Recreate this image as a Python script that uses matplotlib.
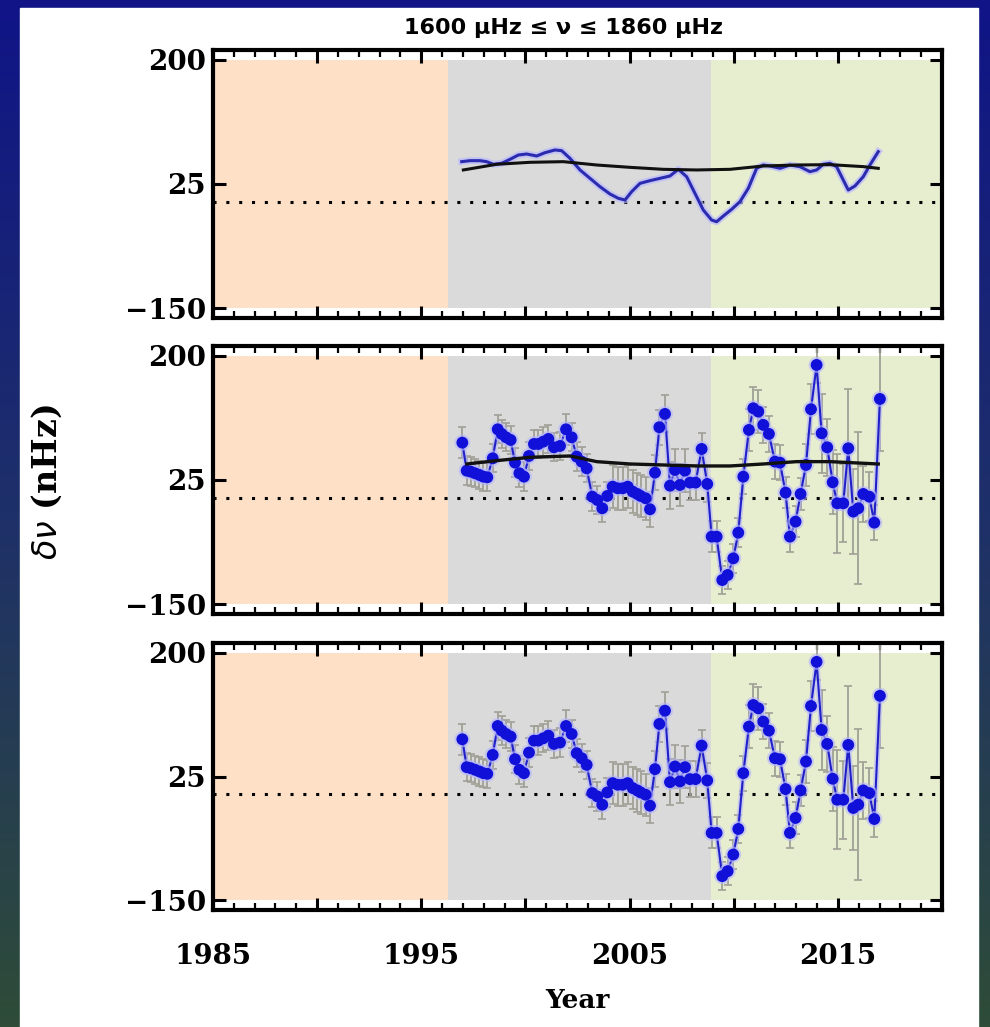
import numpy as np
import matplotlib
matplotlib.use("Agg")
import matplotlib.pyplot as plt
from matplotlib.patches import Rectangle
from matplotlib.ticker import MultipleLocator, FuncFormatter
import matplotlib.patheffects as pe

# ---- data -------------------------------------------------------------
# smoothed frequency shift (top panel)
smooth_year = [1996.94, 1997.34, 1997.82, 1998.14, 1998.46, 1998.86, 1999.26, 1999.66,
               2000.06, 2000.54, 2000.94, 2001.42, 2001.74, 2002.14, 2002.62, 2003.10,
               2003.58, 2004.06, 2004.46, 2004.78, 2005.10, 2005.50, 2005.98, 2006.46,
               2006.94, 2007.34, 2007.74, 2008.14, 2008.54, 2008.94, 2009.18, 2009.50,
               2009.90, 2010.30, 2010.70, 2011.10, 2011.42, 2011.74, 2012.22, 2012.70,
               2013.18, 2013.66, 2013.98, 2014.30, 2014.62, 2014.94, 2015.26, 2015.50,
               2015.82, 2016.22, 2016.54, 2016.94]
smooth_shift = [56.5, 57.9, 57.9, 56.5, 52.8, 54.2, 59.8, 65.9,
                67.3, 64.5, 69.2, 73.0, 72.0, 61.2, 44.8, 33.0,
                21.2, 10.9, 4.8, 2.4, 14.2, 25.9, 29.7, 33.0,
                36.3, 45.7, 35.3, 11.8, -11.7, -25.8, -28.2, -20.2,
                -10.7, 0.1, 18.9, 47.1, 51.8, 50.4, 47.1, 51.8,
                49.4, 42.4, 44.8, 52.8, 54.2, 49.5, 30.6, 16.5,
                22.2, 35.3, 51.8, 70.6]

# background trend, top panel
trend1_year = [1997.02, 1998.62, 2000.22, 2001.82, 2003.42, 2005.02, 2006.62,
               2008.22, 2009.82, 2011.42, 2013.02, 2014.62, 2016.22, 2016.94]
trend1_shift = [44.8, 52.8, 55.6, 56.5, 51.8, 48.5, 45.7,
                44.8, 45.7, 50.4, 51.8, 52.3, 49.5, 47.1]

# background trend, middle panel
trend2_year = [1997.18, 1998.62, 2000.22, 2002.14, 2003.42, 2005.02, 2006.62,
               2008.22, 2009.82, 2011.42, 2013.02, 2014.62, 2016.94]
trend2_shift = [47.6, 52.3, 57.0, 58.9, 50.9, 47.6, 46.2,
                44.8, 44.8, 47.6, 50.9, 50.9, 47.6]

# individual frequency-shift measurements with uncertainties
obs_year = [1996.97, 1997.18, 1997.37, 1997.58, 1997.79, 1997.98, 1998.17, 1998.43,
            1998.67, 1998.86, 1999.07, 1999.29, 1999.50, 1999.71, 1999.93, 2000.17,
            2000.41, 2000.62, 2000.86, 2001.10, 2001.37, 2001.66, 2001.95, 2002.22,
            2002.46, 2002.70, 2002.94, 2003.21, 2003.45, 2003.69, 2003.93, 2004.19,
            2004.43, 2004.67, 2004.91, 2005.15, 2005.37, 2005.53, 2005.77, 2005.98,
            2006.22, 2006.43, 2006.70, 2006.94, 2007.18, 2007.42, 2007.66, 2007.90,
            2008.17, 2008.46, 2008.73, 2008.94, 2009.18, 2009.45, 2009.71, 2009.98,
            2010.22, 2010.46, 2010.73, 2010.94, 2011.18, 2011.42, 2011.69, 2011.98,
            2012.22, 2012.49, 2012.70, 2012.97, 2013.21, 2013.47, 2013.71, 2013.98,
            2014.22, 2014.49, 2014.75, 2014.97, 2015.26, 2015.50, 2015.74, 2015.98,
            2016.22, 2016.51, 2016.75, 2017.02]
obs_shift = [77.7, 38.2, 36.8, 34.5, 32.1, 29.7, 28.8, 55.6,
             96.5, 90.0, 85.2, 81.5, 49.5, 34.5, 29.7, 58.9,
             75.8, 75.8, 79.1, 82.9, 71.1, 73.0, 96.5, 85.2,
             58.0, 50.9, 41.5, 1.5, -3.2, -14.9, 2.5, 15.6,
             13.3, 13.3, 15.6, 8.6, 5.3, 2.5, -0.8, -16.3,
             35.4, 99.4, 118.2, 17.0, 39.2, 18.0, 38.2, 21.3,
             21.3, 68.8, 19.4, -54.9, -54.9, -116.1, -109.0, -85.5,
             -49.3, 29.7, 95.6, 126.2, 121.5, 102.7, 90.0, 50.9,
             49.5, 7.2, -54.9, -33.7, 5.3, 46.2, 124.8, 187.3,
             90.9, 71.1, 21.8, -7.9, -7.9, 69.7, -19.6, -14.9,
             5.3, 1.5, -35.2, 139.3]
obs_err = [22, 20, 20, 20, 20, 20, 20, 20,
           20, 20, 20, 20, 20, 20, 20, 20,
           20, 20, 20, 20, 20, 20, 22, 20,
           20, 20, 20, 20, 20, 20, 20, 30,
           30, 30, 30, 30, 30, 30, 30, 25,
           25, 25, 26, 33, 30, 30, 30, 25,
           25, 22, 25, 22, 22, 20, 20, 20,
           20, 25, 30, 30, 30, 25, 25, 25,
           25, 22, 22, 22, 22, 30, 35, 26,
           56, 40, 45, 70, 55, 83, 60, 107,
           40, 35, 25, 74]

# solar-cycle shading
cycle_edges = [1985.0, 1996.3, 2008.9, 2020.0]
cycle_colors = ["#fde0c6", "#dadada", "#e7edcf"]

ytick_vals = [-150, 25, 200]
xlabel_years = [1985, 1995, 2005, 2015]

# ---- figure -----------------------------------------------------------
W, H = 990, 1027
fig = plt.figure(figsize=(W / 100, H / 100), dpi=100)

# gradient backdrop with a white card on top
bg = fig.add_axes([0, 0, 1, 1], zorder=-10)
top = np.array([16, 20, 135]) / 255
mid = np.array([30, 48, 105]) / 255
bot = np.array([46, 76, 56]) / 255
t = np.linspace(0, 1, 256)[:, None]
grad = np.where(t < 0.5, top + (mid - top) * (t / 0.5), mid + (bot - mid) * ((t - 0.5) / 0.5))
bg.imshow(grad[:, None, :].repeat(4, axis=1), aspect="auto", extent=[0, 1, 0, 1])
bg.add_patch(Rectangle((20 / W, 0), (978 - 20) / W, (H - 8) / H, color="white",
                       transform=bg.transAxes))
bg.set_xlim(0, 1)
bg.set_ylim(0, 1)
bg.axis("off")

tick_font = dict(family="DejaVu Serif", weight="bold", size=20)

left = 213 / W
width = (942 - 213) / W
panels_px = [(50, 318), (346, 614), (643, 910)]
axes = []
for (ptop, pbot) in panels_px:
    ax = fig.add_axes([left, 1 - pbot / H, width, (pbot - ptop) / H])
    axes.append(ax)

for i, ax in enumerate(axes):
    ax.set_xlim(1985, 2020)
    ax.set_ylim(-164, 214)
    for k in range(3):
        ax.add_patch(Rectangle((cycle_edges[k], -150), cycle_edges[k + 1] - cycle_edges[k], 350,
                               facecolor=cycle_colors[k], edgecolor="none", zorder=0))
    ax.axhline(0, color="black", ls=(0, (1, 3.2)), lw=2.2, zorder=1)

    if i == 0:
        ax.plot(smooth_year, smooth_shift, color="#2b2bb0", lw=2.2, zorder=3,
                path_effects=[pe.Stroke(linewidth=5, foreground="#b8b8ff", alpha=0.7), pe.Normal()])
        ax.plot(trend1_year, trend1_shift, color="#111111", lw=2.2, zorder=4)
    else:
        ax.errorbar(obs_year, obs_shift, yerr=obs_err, fmt="none", ecolor="#a0a096",
                    elinewidth=1.3, capsize=3, capthick=1.2, zorder=2)
        ax.plot(obs_year, obs_shift, color="#2020c8", lw=1.5, marker="o", ms=7.5,
                mfc="#1010d8", mec="#1010d8", zorder=3,
                path_effects=[pe.Stroke(linewidth=4, foreground="#b4b4ff", alpha=0.6), pe.Normal()])
        if i == 1:
            ax.plot(trend2_year, trend2_shift, color="#111111", lw=2.4, zorder=4)

    # axes frame and ticks
    for s in ax.spines.values():
        s.set_linewidth(3)
        s.set_color("black")
    ax.set_yticks(ytick_vals)
    ax.xaxis.set_major_locator(MultipleLocator(5))
    ax.xaxis.set_minor_locator(MultipleLocator(1))
    ax.tick_params(which="both", direction="in", top=True, right=True, color="black")
    ax.tick_params(which="major", length=9, width=2.2)
    ax.tick_params(which="minor", length=5, width=1.6)
    ax.tick_params(axis="y", which="major", pad=5)
    ax.set_yticklabels([("\u2212" + str(-v)) if v < 0 else str(v) for v in ytick_vals],
                       fontdict=tick_font)
    if i == 2:
        ax.xaxis.set_major_formatter(FuncFormatter(
            lambda v, p: str(int(round(v))) if int(round(v)) in xlabel_years else ""))
        for lab in ax.get_xticklabels():
            lab.set_fontfamily("DejaVu Serif")
            lab.set_fontweight("bold")
            lab.set_fontsize(20)
        ax.tick_params(axis="x", which="major", pad=24)
    else:
        ax.set_xticklabels([])

fig.text(563 / W, 1 - 28 / H, "1600 \u03bcHz \u2264 \u03bd \u2264 1860 \u03bcHz",
         ha="center", va="center", fontsize=16, fontweight="bold", family="DejaVu Sans")
fig.text(577 / W, 1 - 1000 / H, "Year", ha="center", va="center",
         fontsize=19, fontweight="bold", family="DejaVu Serif")
fig.text(47 / W, 1 - 482 / H, r"$\delta\nu$ (nHz)", ha="center", va="center",
         rotation=90, fontsize=24, fontweight="bold", family="DejaVu Serif")

fig.savefig("out.png", dpi=100)
